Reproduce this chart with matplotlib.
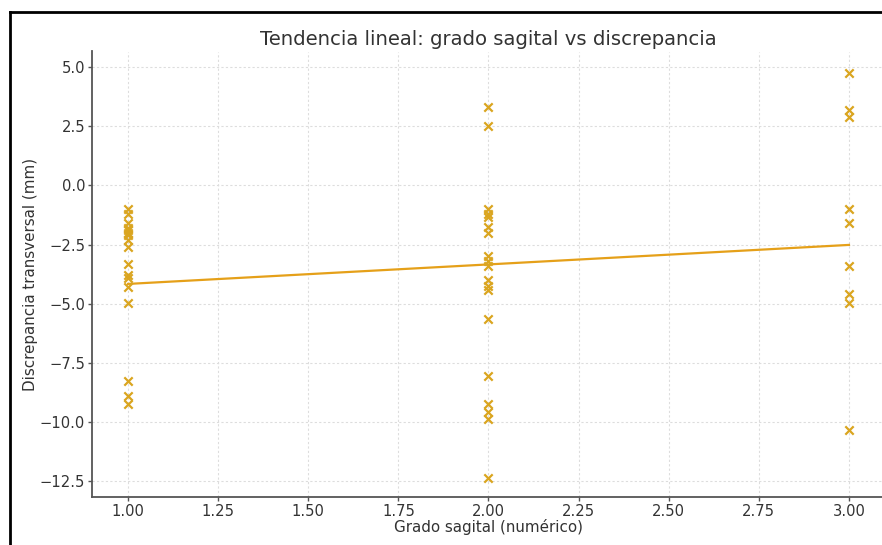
import numpy as np
import matplotlib
matplotlib.use("Agg")
import matplotlib.pyplot as plt
from matplotlib.lines import Line2D

grado_1 = [-1.0, -1.2, -1.6, -1.8, -1.9, -2.0, -2.1, -2.3, -2.6, -3.3, -3.8, -3.9, -4.3, -4.95, -8.25, -8.9, -9.25]
grado_2 = [3.3, 2.5, -1.0, -1.2, -1.35, -1.75, -2.0, -3.0, -3.2, -3.4, -4.0, -4.25, -4.4, -5.65, -8.05, -9.25, -9.55, -9.85, -12.35]
grado_3 = [4.75, 3.2, 2.9, -1.0, -1.6, -3.4, -4.6, -4.95, -10.35]

x = np.array([1.0] * len(grado_1) + [2.0] * len(grado_2) + [3.0] * len(grado_3))
y = np.array(grado_1 + grado_2 + grado_3)

slope, intercept = np.polyfit(x, y, 1)
x_line = np.array([1.0, 3.0])
y_line = slope * x_line + intercept

W, H = 882, 545
fig = plt.figure(figsize=(W / 100, H / 100), dpi=100)
fig.patch.set_facecolor("white")

left, right, top, bottom = 92, 885, 51.5, 497
ax = fig.add_axes([left / W, 1 - bottom / H, (right - left) / W, (bottom - top) / H])

text_color = "#333333"
ax.scatter(x, y, marker="x", s=36, color="#DAA520", linewidths=1.6, zorder=3)
ax.plot(x_line, y_line, color="#E5A019", linewidth=1.6, zorder=2)

ax.set_xlim(0.9, 3.1)
ax.set_ylim(-13.16, 5.66)
ax.set_xticks([1.0, 1.25, 1.5, 1.75, 2.0, 2.25, 2.5, 2.75, 3.0])
ax.set_xticklabels(["1.00", "1.25", "1.50", "1.75", "2.00", "2.25", "2.50", "2.75", "3.00"])
ax.set_yticks([5.0, 2.5, 0.0, -2.5, -5.0, -7.5, -10.0, -12.5])
ax.set_yticklabels(["5.0", "2.5", "0.0", "\u22122.5", "\u22125.0", "\u22127.5", "\u221210.0", "\u221212.5"])

ax.grid(True, linestyle=(0, (2, 2)), color="#dddddd", linewidth=0.8)
ax.set_axisbelow(True)
for s in ["top", "right"]:
    ax.spines[s].set_visible(False)
for s in ["left", "bottom"]:
    ax.spines[s].set_color("#555555")
    ax.spines[s].set_linewidth(1.3)
ax.tick_params(colors=text_color, labelsize=10.6, length=3, width=1, color="#555555", pad=2)

ax.set_title("Tendencia lineal: grado sagital vs discrepancia", fontsize=14.1, color=text_color, pad=5)
ax.set_xlabel("Grado sagital (numérico)", fontsize=10.9, color=text_color, labelpad=0)
ax.set_ylabel("Discrepancia transversal (mm)", fontsize=10.9, color=text_color, labelpad=1)

# screenshot border (left and top)
fig.add_artist(Line2D([9.5 / W, 9.5 / W], [0, 1 - 12 / H], transform=fig.transFigure, color="black", linewidth=2))
fig.add_artist(Line2D([9.5 / W, 1], [1 - 12 / H, 1 - 12 / H], transform=fig.transFigure, color="black", linewidth=2))

fig.savefig("out.png", dpi=100, facecolor="white")
